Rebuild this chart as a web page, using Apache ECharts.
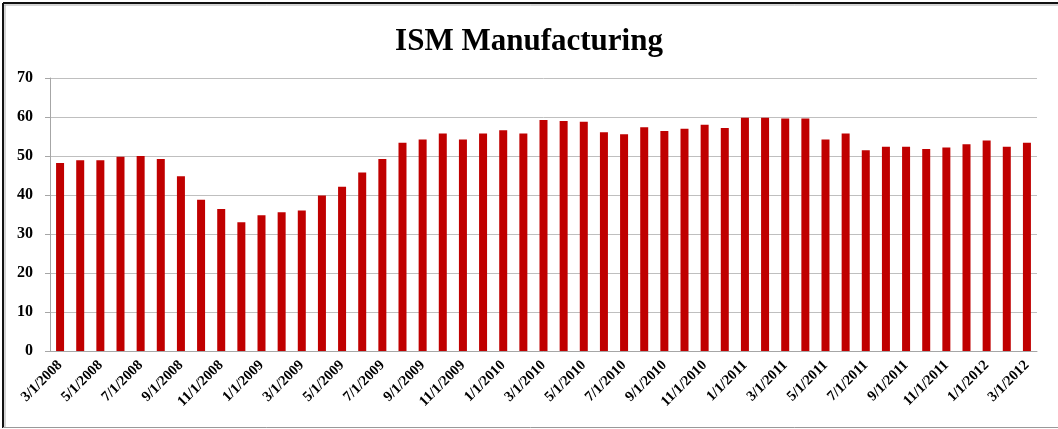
<!DOCTYPE html>
<html>
<head>
<meta charset="utf-8">
<title>ISM Manufacturing</title>
<script src="https://cdn.jsdelivr.net/npm/echarts@6/dist/echarts.min.js"></script>
<style>
  html, body { margin: 0; padding: 0; background: #fff; }
  #chart { width: 1058px; height: 429px; }
</style>
</head>
<body>
<div id="chart"></div>
<script>
// 月份标签 3/1/2008 ~ 3/1/2012
const months = [
  '3/1/2008','4/1/2008','5/1/2008','6/1/2008','7/1/2008','8/1/2008','9/1/2008','10/1/2008','11/1/2008','12/1/2008',
  '1/1/2009','2/1/2009','3/1/2009','4/1/2009','5/1/2009','6/1/2009','7/1/2009','8/1/2009','9/1/2009','10/1/2009','11/1/2009','12/1/2009',
  '1/1/2010','2/1/2010','3/1/2010','4/1/2010','5/1/2010','6/1/2010','7/1/2010','8/1/2010','9/1/2010','10/1/2010','11/1/2010','12/1/2010',
  '1/1/2011','2/1/2011','3/1/2011','4/1/2011','5/1/2011','6/1/2011','7/1/2011','8/1/2011','9/1/2011','10/1/2011','11/1/2011','12/1/2011',
  '1/1/2012','2/1/2012','3/1/2012'
];
// ISM 指数
const ismValues = [
  48.2, 48.9, 48.9, 49.8, 50.0, 49.2, 44.8, 38.8, 36.4, 33.0,
  34.8, 35.6, 36.0, 39.9, 42.1, 45.8, 49.2, 53.4, 54.2, 55.8, 54.2, 55.8,
  56.6, 55.8, 59.2, 59.0, 58.8, 56.1, 55.6, 57.4, 56.4, 57.0, 58.0, 57.2,
  59.8, 59.8, 59.6, 59.6, 54.2, 55.8, 51.5, 52.4, 52.4, 51.8, 52.2, 53.0,
  54.0, 52.4, 53.4
];
const yTicks = [0, 10, 20, 30, 40, 50, 60, 70];

const serif = '"Liberation Serif", "DejaVu Serif", serif';
let myChart = echarts.init(document.getElementById('chart'), null, {renderer: 'canvas'});

let option = {
  backgroundColor: '#fff',
  animation: false,
  title: {
    text: 'ISM Manufacturing',
    left: 'center',
    top: 21,
    textStyle: { fontFamily: serif, fontSize: 31, fontWeight: 'bold', color: '#000' }
  },
  grid: { left: 50, right: 21, top: 78, bottom: 78 },
  xAxis: {
    type: 'category',
    data: months,
    axisLine: { lineStyle: { color: '#a6a6a6', width: 1 } },
    axisTick: { interval: 1, length: 5, lineStyle: { color: '#a6a6a6' } },
    axisLabel: {
      interval: 1,
      rotate: 45,
      margin: 12,
      fontFamily: serif,
      fontSize: 14.5,
      fontWeight: 'bold',
      color: '#000'
    }
  },
  yAxis: {
    type: 'value',
    min: yTicks[0],
    max: yTicks[yTicks.length - 1],
    interval: 10,
    axisLine: { show: true, lineStyle: { color: '#a6a6a6' } },
    axisTick: { show: true, length: 5, lineStyle: { color: '#a6a6a6' } },
    axisLabel: { margin: 17, fontFamily: serif, fontSize: 16, fontWeight: 'bold', color: '#000' },
    splitLine: { lineStyle: { color: '#bfbfbf', width: 1 } }
  },
  series: [{
    type: 'bar',
    data: ismValues,
    barWidth: 8,
    itemStyle: { color: '#c00000' }
  }],
  // 外框
  graphic: [
    { type: 'line', shape: { x1: 3, y1: 3, x2: 1058, y2: 3 }, style: { stroke: '#111', lineWidth: 2 } },
    { type: 'line', shape: { x1: 3, y1: 5, x2: 1058, y2: 5 }, style: { stroke: '#aaa', lineWidth: 1 } },
    { type: 'line', shape: { x1: 3, y1: 3, x2: 3, y2: 428 }, style: { stroke: '#111', lineWidth: 2 } },
    { type: 'line', shape: { x1: 5, y1: 5, x2: 5, y2: 428 }, style: { stroke: '#aaa', lineWidth: 1 } },
    { type: 'line', shape: { x1: 3, y1: 427.5, x2: 1058, y2: 427.5 }, style: { stroke: '#999', lineWidth: 1 } }
  ]
};
myChart.setOption(option);
</script>
</body>
</html>
